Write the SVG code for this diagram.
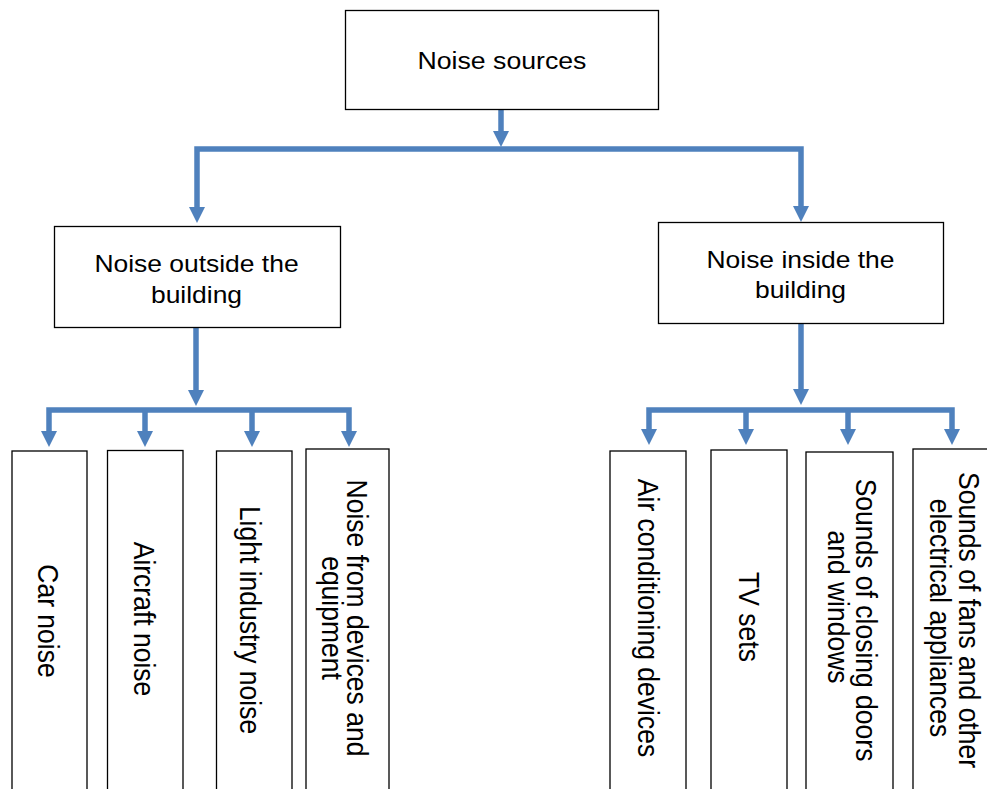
<svg xmlns="http://www.w3.org/2000/svg" width="987" height="789" viewBox="0 0 987 789">
<style>
.box{fill:#fff;stroke:#000;stroke-width:1.3}
.t{font-family:"Liberation Sans",Arial,Helvetica,sans-serif;fill:#000;text-anchor:middle}
.h23{font-size:23px}
.v{font-size:26.5px}
.c{fill:none;stroke:#4F81BD;stroke-width:5.5;stroke-linejoin:miter;marker-end:url(#ah)}
</style>
<defs>
<marker id="ah" markerUnits="userSpaceOnUse" markerWidth="16" markerHeight="16" refX="6" refY="8" orient="auto">
<path d="M0,0 L16,8 L0,16 z" fill="#4F81BD"/>
</marker>
</defs>
<rect width="987" height="789" fill="#fff"/>

<g id="connectors">
<path class="c" d="M501,110 V137"/>
<path class="c" d="M501,149 H197 V213"/>
<path class="c" d="M501,149 H801 V212"/>
<path class="c" d="M196,328 V396"/>
<path class="c" d="M196,410 H49 V437"/>
<path class="c" d="M196,410 H349 V437"/>
<path class="c" d="M145,410 V437"/>
<path class="c" d="M252,410 V437"/>
<path class="c" d="M801,324 V395"/>
<path class="c" d="M801,410 H649 V435"/>
<path class="c" d="M801,410 H952 V435"/>
<path class="c" d="M746,410 V435"/>
<path class="c" d="M848,410 V435"/>
</g>

<g id="noise-sources">
<rect class="box" x="345.5" y="10.5" width="313" height="99"/>
<text class="t h23" transform="translate(502,69) scale(1.16,1)">Noise sources</text>
</g>

<g id="noise-outside">
<rect class="box" x="54.5" y="226.5" width="286" height="101"/>
<text class="t h23" transform="translate(196.5,272) scale(1.15,1)">Noise outside the</text>
<text class="t h23" transform="translate(196.5,302.5) scale(1.15,1)">building</text>
</g>

<g id="noise-inside">
<rect class="box" x="658.5" y="222.5" width="285" height="101"/>
<text class="t h23" transform="translate(800.5,267.5) scale(1.15,1)">Noise inside the</text>
<text class="t h23" transform="translate(800.5,298) scale(1.15,1)">building</text>
</g>

<g id="car-noise">
<rect class="box" x="12" y="451" width="75" height="345"/>
<text class="t v" transform="translate(38,621) scale(1.13,1) rotate(90)">Car noise</text>
</g>

<g id="aircraft-noise">
<rect class="box" x="107.5" y="450.5" width="75.5" height="345"/>
<text class="t v" transform="translate(134,619) scale(1.13,1) rotate(90)">Aircraft noise</text>
</g>

<g id="light-industry">
<rect class="box" x="216.5" y="451" width="75.5" height="345"/>
<text class="t v" transform="translate(239.5,620) scale(1.13,1) rotate(90)">Light industry noise</text>
</g>

<g id="devices-equipment">
<rect class="box" x="306" y="449" width="83" height="345"/>
<text class="t v" transform="translate(347,618) scale(1.13,1) rotate(90)">Noise from devices and</text>
<text class="t v" transform="translate(321.5,618) scale(1.13,1) rotate(90)">equipment</text>
</g>

<g id="air-conditioning">
<rect class="box" x="610" y="451" width="76" height="345"/>
<text class="t v" transform="translate(637.5,618) scale(1.13,1) rotate(90)">Air conditioning devices</text>
</g>

<g id="tv-sets">
<rect class="box" x="711" y="450" width="76" height="345"/>
<text class="t v" transform="translate(739,617) scale(1.13,1) rotate(90)">TV sets</text>
</g>

<g id="doors-windows">
<rect class="box" x="806" y="452" width="87" height="345"/>
<text class="t v" transform="translate(856,620) scale(1.13,1) rotate(90)">Sounds of closing doors</text>
<text class="t v" transform="translate(827.5,607) scale(1.13,1) rotate(90)">and windows</text>
</g>

<g id="fans-appliances">
<rect class="box" x="913" y="449" width="82" height="345"/>
<text class="t v" transform="translate(958.5,620) scale(1.13,1) rotate(90)">Sounds of fans and other</text>
<text class="t v" transform="translate(929.5,618) scale(1.13,1) rotate(90)">electrical appliances</text>
</g>
</svg>
